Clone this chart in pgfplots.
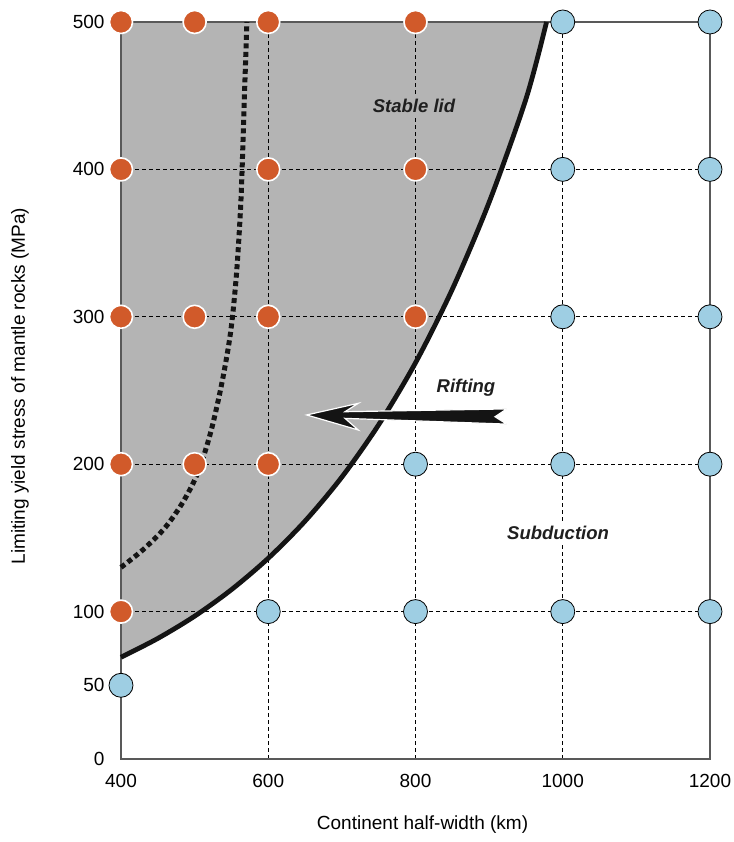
\documentclass[border=0pt]{standalone}
\usepackage{pgfplots}
\pgfplotsset{compat=1.18}
\usepackage{fontspec}
\setmainfont{Liberation Sans}
\definecolor{orangeC}{HTML}{D15A2A}
\definecolor{blueC}{HTML}{9ECEE3}
\definecolor{grayC}{HTML}{B4B4B4}
\begin{document}
\begin{tikzpicture}
\begin{axis}[
 set layers,
 scale only axis, width=589pt, height=737pt,
 xmin=400, xmax=1200, ymin=0, ymax=500,
 xtick={400,600,800,1000,1200},
 ytick={0,100,200,300,400,500},
 extra y ticks={50}, extra y tick style={grid=none},
 grid=major,
 major grid style={black, line width=0.6pt, dash pattern=on 4pt off 3pt},
 major tick length=0pt,
 axis line style={black!65, line width=1.2pt},
 tick label style={font=\fontsize{19}{22}\selectfont},
 /pgf/number format/assume math mode=true,
 /pgf/number format/1000 sep={},
 label style={font=\fontsize{19}{22}\selectfont},
 xlabel={Continent half-width (km)},
 ylabel={Limiting yield stress of mantle rocks (MPa)},
 xlabel style={at={(axis description cs:0.512,-0.0896)}, anchor=center},
 ylabel style={at={(axis description cs:-0.1715,0.506)}, anchor=center},
 yticklabel style={xshift=-13pt},
 xticklabel style={yshift=-12pt},
 clip=false,
]
% stable-lid region
\addplot[on layer=axis background, fill=grayC, draw=none] coordinates {
(400,69) (425,75.1) (450,81.8) (475,89.0) (500,96.9) (525,105.5) (550,114.9)
(575,125.1) (600,136.2) (625,148.3) (650,161.4) (675,175.8) (700,191.3)
(725,208.3) (750,226.8) (775,246.9) (800,268.8) (825,292.7) (850,318.7)
(875,346.9) (900,377.7) (925,411.2) (950,447.7) (965,472) (978,500) (400,500)} -- cycle;

% subduction points
\addplot[only marks, mark=*, mark size=12pt,
 mark options={fill=blueC, draw=black, line width=0.8pt}] coordinates {
(1000,500) (1200,500) (1000,400) (1200,400) (1000,300) (1200,300)
(800,200) (1000,200) (1200,200) (600,100) (800,100) (1000,100) (1200,100) (400,50)};

% stable lid points
\addplot[only marks, mark=*, mark size=11.5pt,
 mark options={fill=orangeC, draw=white, line width=1.6pt}] coordinates {
(400,500) (500,500) (600,500) (800,500)
(400,400) (600,400) (800,400)
(400,300) (500,300) (600,300) (800,300)
(400,200) (500,200) (600,200)
(400,100)};

% boundary curve
\addplot[black!92, line width=4.8pt, smooth] coordinates {
(400,69) (450,81.8) (500,96.9) (550,114.9) (600,136.2) (650,161.4) (700,191.3)
(750,226.8) (800,268.8) (850,318.7) (900,377.7) (950,447.7) (978,500)};

% dashed curve
\addplot[black!92, line width=5pt, dash pattern=on 5pt off 3.5pt, smooth] coordinates {
(400,130) (430,142) (460,157) (485,175) (505,195) (522,222) (537,255)
(549,290) (557,330) (563,380) (567,440) (571,500)};

% rifting arrow
\fill[black!92, draw=white, line width=1.2pt, line join=miter]
 (axis cs:652.2,233.4) -- (axis cs:722.3,241.3) -- (axis cs:704.2,235.6)
 -- (axis cs:923.9,237.5) -- (axis cs:908.0,232.2) -- (axis cs:923.9,227.2)
 -- (axis cs:704.2,231.1) -- (axis cs:722.3,223.2) -- cycle;

\node[font=\fontsize{18.5}{22}\selectfont\bfseries\itshape, fill=grayC, inner sep=2pt, text=black!88]
 at (axis cs:798,443) {Stable lid};
\node[font=\fontsize{18.5}{22}\selectfont\bfseries\itshape, inner sep=2pt, text=black!88]
 at (axis cs:868.6,251.7) {Rifting};
\node[font=\fontsize{18.5}{22}\selectfont\bfseries\itshape, fill=white, inner sep=2pt, text=black!88]
 at (axis cs:993.6,153.3) {Subduction};
\end{axis}
\pgfresetboundingbox
\path[use as bounding box] ([shift={(-121pt,-83pt)}]current axis.south west)
 rectangle ([shift={(24pt,22pt)}]current axis.north east);
\end{tikzpicture}
\end{document}
